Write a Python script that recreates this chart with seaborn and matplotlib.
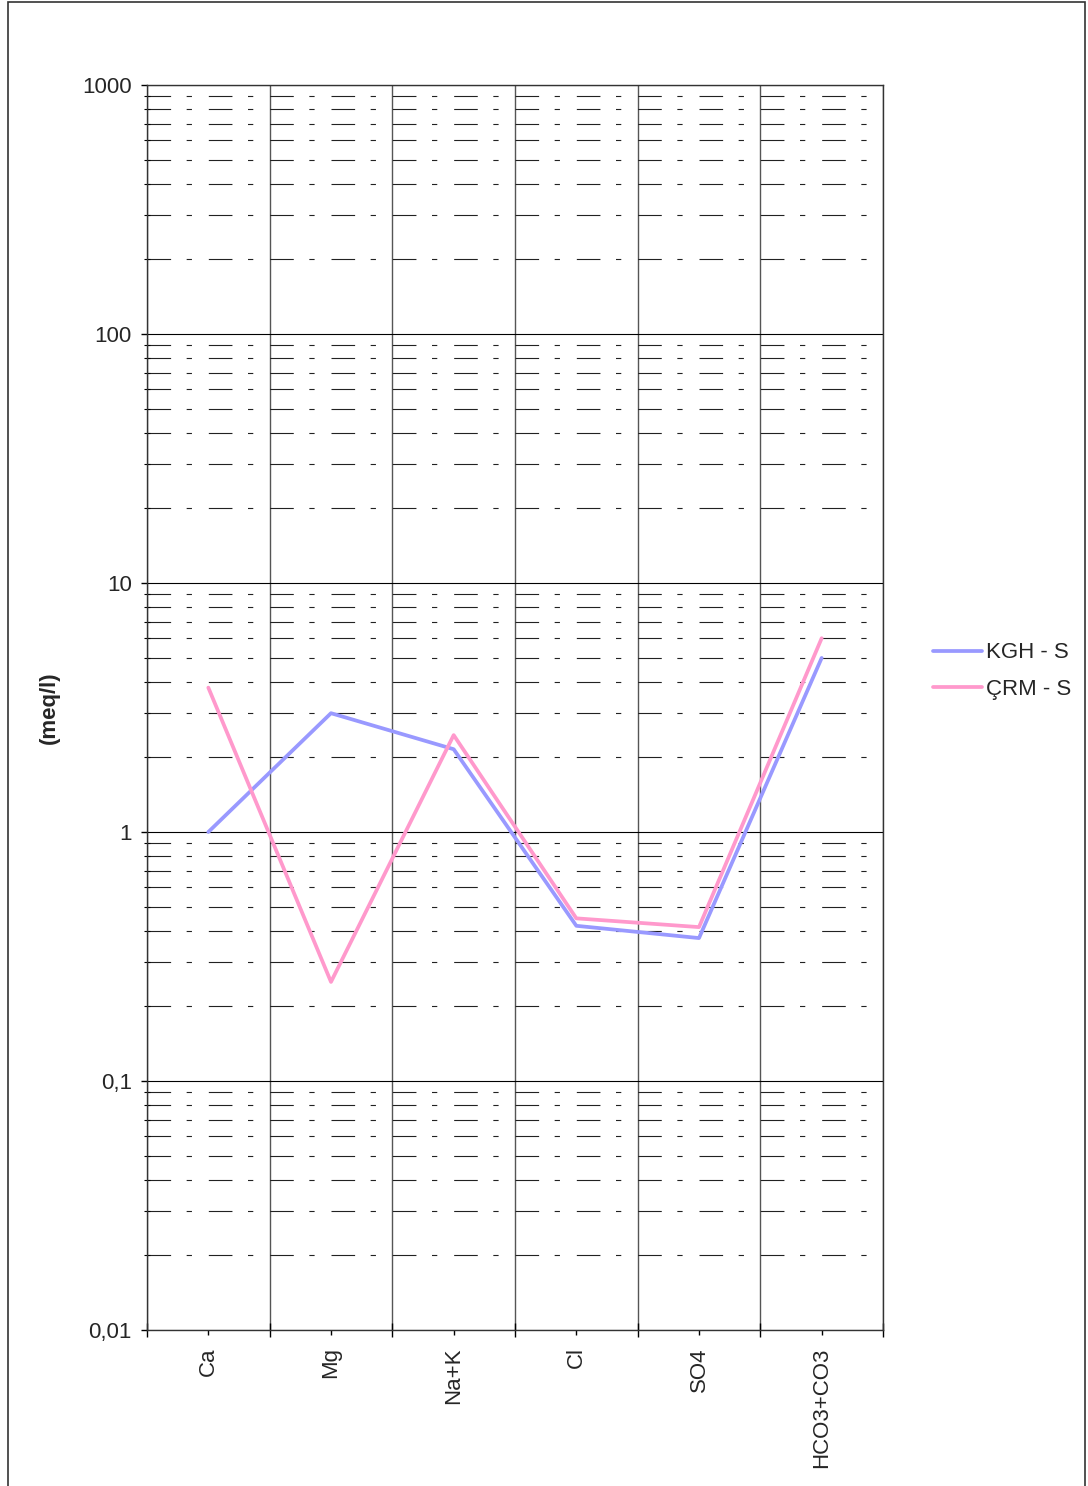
import matplotlib
matplotlib.use("Agg")
import matplotlib.pyplot as plt
import matplotlib.ticker as mticker
from matplotlib.patches import Rectangle
import seaborn as sns
import pandas as pd
import numpy as np

categories = ["Ca", "Mg", "Na+K", "Cl", "SO4", "HCO3+CO3"]
kgh_s = [1.0, 3.0, 2.15, 0.42, 0.375, 5.0]
crm_s = [3.8, 0.25, 2.45, 0.45, 0.415, 6.0]
series_names = ["KGH - S", "ÇRM - S"]
series_colors = ["#9999FF", "#FF99CC"]
y_ticks = [0.01, 0.1, 1, 10, 100, 1000]
y_tick_labels = ["0,01", "0,1", "1", "10", "100", "1000"]

df = pd.DataFrame({
    "ion": categories * 2,
    "x": list(range(len(categories))) * 2,
    "value": kgh_s + crm_s,
    "series": [series_names[0]] * len(categories) + [series_names[1]] * len(categories),
})

sns.set_theme(style="white")
plt.rcParams["font.family"] = ["Liberation Sans", "DejaVu Sans"]
plt.rcParams["lines.scale_dashes"] = False

fig = plt.figure(figsize=(10.88, 14.86), dpi=100)
ax = fig.add_axes([147 / 1088, 1 - 1330 / 1486, (883 - 147) / 1088, (1330 - 85) / 1486])

sns.lineplot(data=df, x="x", y="value", hue="series", palette=series_colors,
             hue_order=series_names, sort=False, linewidth=2.7, ax=ax, legend=True,
             zorder=5)

ax.set_yscale("log")
ax.set_ylim(0.01, 1000)
ax.set_xlim(-0.5, len(categories) - 0.5)

# y ticks
ax.yaxis.set_major_locator(mticker.FixedLocator(y_ticks))
ax.yaxis.set_major_formatter(mticker.FixedFormatter(y_tick_labels))
ax.yaxis.set_minor_locator(mticker.LogLocator(base=10, subs=np.arange(2, 10)))
ax.yaxis.set_minor_formatter(mticker.NullFormatter())
ax.tick_params(axis="y", which="major", direction="out", length=4, width=1, color="black",
               labelsize=16, pad=7, left=True)
ax.tick_params(axis="y", which="minor", direction="inout", length=4, width=0.8, color="black", left=True)

# x ticks: labels at centers, boundaries as minor ticks
ax.xaxis.set_major_locator(mticker.FixedLocator(list(range(len(categories)))))
ax.xaxis.set_major_formatter(mticker.FixedFormatter(categories))
ax.xaxis.set_minor_locator(mticker.FixedLocator([i - 0.5 for i in range(len(categories) + 1)]))
ax.tick_params(axis="x", which="major", direction="out", length=3.5, width=1, color="black",
               labelsize=16, pad=9, labelrotation=90, bottom=True)
ax.tick_params(axis="x", which="minor", direction="inout", length=10, width=1, color="black", bottom=True)
for lbl in ax.get_xticklabels():
    lbl.set_va("top")
    lbl.set_ha("center")

# grids
ax.grid(False)
ax.yaxis.grid(True, which="major", color="black", linewidth=0.8, linestyle="-", zorder=1)
ax.yaxis.grid(True, which="minor", color="#222222", linewidth=0.8,
              linestyle=(0, (17.0, 11.2, 3.8, 12.16)), zorder=1)
ax.xaxis.grid(True, which="minor", color="#555555", linewidth=1.0, linestyle="-", zorder=1)
ax.set_axisbelow(True)

for s in ax.spines.values():
    s.set_color("#333333")
    s.set_linewidth(1.0)

ax.set_xlabel("")
ax.set_ylabel("(meq/l)", fontsize=16, fontweight="bold")
ax.yaxis.set_label_coords(-0.118, 0.5)

# legend
ax.get_legend().remove()
handles, labels = ax.get_legend_handles_labels()
fig.legend(handles, labels, loc="center left", bbox_to_anchor=(922 / 1088, 1 - 671 / 1486),
           bbox_transform=fig.transFigure, frameon=False, fontsize=16, borderpad=0,
           handlelength=2.2, handletextpad=0.2, labelspacing=0.68)

# figure border
fig.patches.append(Rectangle((8 / 1088, -0.01), (1085 - 8) / 1088, 1 - 2 / 1486 + 0.01,
                             transform=fig.transFigure, fill=False, edgecolor="#333333",
                             linewidth=1.2, figure=fig))

fig.savefig("out.png", dpi=100, facecolor="white")
